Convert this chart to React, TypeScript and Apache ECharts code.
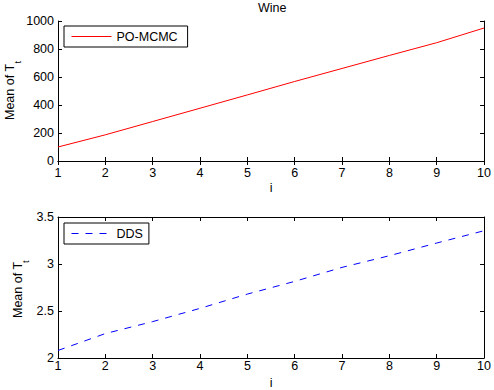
import React, { useEffect, useRef } from 'react';
import * as echarts from 'echarts';

const iValues = [1, 2, 3, 4, 5, 6, 7, 8, 9, 10];
const poMcmcMean = [100, 187, 282, 377, 472, 568, 661, 754, 845, 950];
const ddsMean = [2.08, 2.26, 2.387, 2.528, 2.68, 2.815, 2.964, 3.088, 3.223, 3.354];

const xRange = { min: 1, max: 10, interval: 1 };
const topYRange = { min: 0, max: 1000, interval: 200 };
const bottomYRange = { min: 2, max: 3.5, interval: 0.5 };

const FONT = '"Liberation Sans", Arial, Helvetica, sans-serif';
const FS = 12.5;

function pairs(xs: number[], ys: number[]) {
  return xs.map((x, k) => [x, ys[k]]);
}

export default function App() {
  const ref = useRef<HTMLDivElement>(null);
  useEffect(() => {
    if (!ref.current) return;
    const chart = echarts.init(ref.current, undefined, { renderer: 'svg' });
    const txt = { color: '#000', fontFamily: FONT, fontSize: FS };
    const axLine = { show: true, lineStyle: { color: '#000', width: 1 } };
    const tick = { show: true, inside: true, length: 4, lineStyle: { color: '#000', width: 1 } };
    const fmt = (v: number) => String(v);
    const mkX = (grid: number, margin: number, nameGap: number) => [
      {
        type: 'value', gridIndex: grid, ...xRange, position: 'bottom',
        name: 'i', nameLocation: 'middle', nameGap, nameTextStyle: { ...txt },
        axisLine: axLine, axisTick: tick, splitLine: { show: false },
        axisLabel: { ...txt, margin, formatter: fmt },
      },
      {
        type: 'value', gridIndex: grid, ...xRange, position: 'top',
        axisLine: axLine, axisTick: tick, splitLine: { show: false },
        axisLabel: { show: false },
      },
    ];
    const mkY = (grid: number, range: any) => [
      {
        type: 'value', gridIndex: grid, ...range, position: 'left',
        axisLine: axLine, axisTick: tick, splitLine: { show: false },
        axisLabel: { ...txt, margin: 4, formatter: fmt },
      },
      {
        type: 'value', gridIndex: grid, ...range, position: 'right',
        axisLine: axLine, axisTick: tick, splitLine: { show: false },
        axisLabel: { show: false },
      },
    ];
    const ylabel = (cx: number, cy: number, subX: number) => ({
      type: 'group', x: cx, y: cy, rotation: Math.PI / 2,
      children: [
        { type: 'text', x: 0, y: 0, style: { text: 'Mean of T', fill: '#000', font: `${FS}px ${FONT}`, textAlign: 'center', textVerticalAlign: 'middle' } },
        { type: 'text', x: subX, y: 8, style: { text: 't', fill: '#000', font: `9.5px ${FONT}`, textAlign: 'left', textVerticalAlign: 'middle' } },
      ],
    });
    const legendBase = {
      left: 64, orient: 'vertical', itemWidth: 40, itemHeight: 12,
      borderColor: '#000', borderWidth: 1, borderRadius: 0, backgroundColor: '#fff',
      textStyle: { ...txt }, itemStyle: { opacity: 0 }, lineStyle: { width: 1 },
    };
    chart.setOption({
      animation: false,
      backgroundColor: '#fff',
      title: {
        text: 'Wine', left: 258, top: 1, padding: 0,
        textStyle: { ...txt, fontWeight: 'normal' },
      },
      grid: [
        { left: 58, top: 21, width: 428, height: 140 },
        { left: 58, top: 217, width: 428, height: 141 },
      ],
      xAxis: [...mkX(0, 5, 20), ...mkX(1, 1, 18)],
      yAxis: [...mkY(0, topYRange), ...mkY(1, bottomYRange)],
      legend: [
        { ...legendBase, data: ['PO-MCMC'], top: 26, padding: [4, 10, 4, 7] },
        { ...legendBase, data: ['DDS'], top: 223, padding: [4, 6, 4, 7] },
      ],
      graphic: [ylabel(9.5, 92, 28.5), ylabel(17.5, 290, 27)],
      series: [
        {
          name: 'PO-MCMC', type: 'line', xAxisIndex: 0, yAxisIndex: 0,
          data: pairs(iValues, poMcmcMean), symbol: 'none',
          lineStyle: { color: '#ff0000', width: 1 }, itemStyle: { color: '#ff0000' },
        },
        {
          name: 'DDS', type: 'line', xAxisIndex: 2, yAxisIndex: 2,
          data: pairs(iValues, ddsMean), symbol: 'none',
          lineStyle: { color: '#0000ff', width: 1, type: [7, 7] }, itemStyle: { color: '#0000ff' },
        },
      ],
    });
    return () => chart.dispose();
  }, []);
  return <div ref={ref} style={{ width: 494, height: 390, position: 'fixed', left: 0, top: 0 }} />;
}
